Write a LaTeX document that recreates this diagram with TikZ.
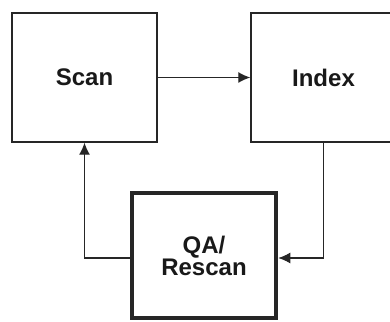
\documentclass[tikz,border=0pt]{standalone}
\usepackage{fontspec}
\setmainfont{Liberation Sans}
\usetikzlibrary{arrows.meta}
\begin{document}
\begin{tikzpicture}[x=1pt,y=1pt,
  box/.style={draw=black!85,line width=1.4pt,minimum width=145pt,minimum height=129pt,inner sep=0pt,
    font=\fontsize{24}{22}\selectfont\bfseries,align=center,text=black!90},
  thick box/.style={box,line width=4.5pt,minimum width=144pt,minimum height=125pt},
  link/.style={draw=black!85,line width=1.3pt,-{Latex[length=12pt,width=11pt]}}]
\useasboundingbox (0,0) rectangle (390,321);
\fill[white] (0,0) rectangle (390,321);
\begin{scope}
\clip (0,0) rectangle (390,321);
\node[box] (scan) at (84.5,243.5) {Scan};
\node[box] (index) at (323.5,243.5) {Index};
\node[thick box] (qa) at (204,65.5) {QA/\\Rescan};
\coordinate (c1) at (index.south |- qa.east);
\coordinate (c2) at (scan.south |- qa.west);
\draw[link] (scan.east) -- (index.west);
\draw[link] (index.south) -- ([yshift=-2.5pt]c1) -- ([yshift=-2.5pt]qa.east);
\draw[link] ([yshift=-2.5pt]qa.west) -- ([yshift=-2.5pt]c2) -- (scan.south);
\end{scope}
\end{tikzpicture}
\end{document}
